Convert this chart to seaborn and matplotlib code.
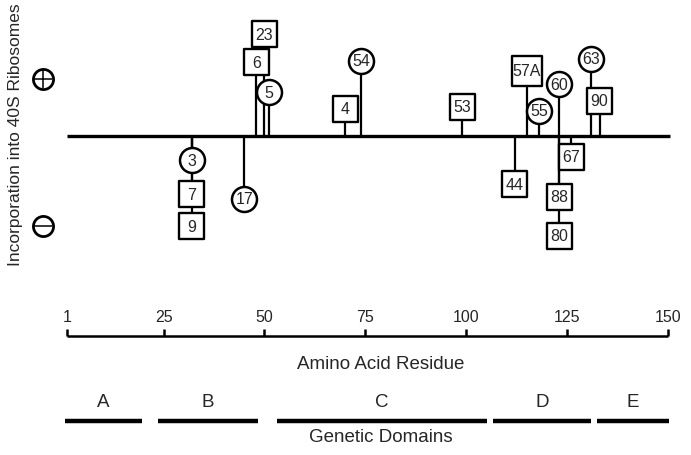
import pandas as pd
import numpy as np
import matplotlib
matplotlib.use("Agg")
import matplotlib.pyplot as plt
import seaborn as sns

# mutation labels, residue position, level above/below the line (+ = incorporated)
labels = ['3', '7', '9', '17', '6', '23', '5', '4', '54', '53',
          '44', '57A', '55', '60', '88', '80', '67', '63', '90']
residues = [32, 32, 32, 45, 48, 50, 51, 70, 74, 99,
            112, 115, 118, 123, 123, 123, 126, 131, 133]
levels = [-24, -58, -90, -63, 74, 102, 44, 27, 75, 29,
          -48, 65, 25, 52, -61, -100, -21, 77, 35]
shapes = ['circle', 'box', 'box', 'circle', 'box', 'box', 'circle', 'box', 'circle', 'box',
          'box', 'box', 'circle', 'circle', 'box', 'box', 'box', 'circle', 'box']

# residue scale and genetic domains
tick_vals = [1, 25, 50, 75, 100, 125, 150]
domain_names = ['A', 'B', 'C', 'D', 'E']
domain_start = [0.5, 23.5, 53, 106.7, 132.4]
domain_end = [19.7, 48.3, 105, 130.8, 150.2]

df = pd.DataFrame({'label': labels, 'residue': residues, 'level': levels, 'shape': shapes})

sns.set_theme(style='white')
plt.rcParams['font.family'] = ['Liberation Sans', 'DejaVu Sans']

fig = plt.figure(figsize=(6.91, 4.56), dpi=100)
ax = fig.add_axes([0, 0, 1, 1])

# stems
ax.vlines(df['residue'], 0, df['level'], color='black', lw=1.6, zorder=1)
# main line
ax.hlines(0, 1.15, 150.4, color='black', lw=2.4, zorder=2)

circ = df[df['shape'] == 'circle']
box = df[df['shape'] == 'box']
sns.scatterplot(data=circ, x='residue', y='level', marker='o', s=324, color='white',
                edgecolor='black', linewidth=1.8, zorder=3, ax=ax, legend=False)
box_sizes = [330 if len(l) < 3 else 470 for l in box['label']]
ax.scatter(box['residue'], box['level'], marker='s', s=box_sizes, c='white',
           edgecolors='black', linewidths=1.7, zorder=3)
for _, row in df.iterrows():
    ax.text(row['residue'], row['level'], row['label'], ha='center', va='center',
            fontsize=11.5, zorder=4)

# plus / minus signs
ax.scatter([-4.9, -4.9], [57, -90], marker='o', s=210, c='white',
           edgecolors='black', linewidths=2.0, zorder=3)
ax.scatter([-4.9], [57], marker='+', s=170, c='black', linewidths=1.1, zorder=4)
ax.scatter([-4.9], [-90], marker='_', s=170, c='black', linewidths=1.1, zorder=4)
ax.text(-11.8, 2, 'Incorporation into 40S Ribosomes', rotation=90,
        ha='center', va='center', fontsize=12.5)

# residue scale
ax.hlines(-199.7, 1, 150, color='black', lw=1.8)
ax.vlines(tick_vals, -199.7, -192.5, color='black', lw=1.8)
for t in tick_vals:
    ax.text(t, -181, str(t), ha='center', va='center', fontsize=11.5)
ax.text(78.7, -228, 'Amino Acid Residue', ha='center', va='center', fontsize=13.5)

# genetic domains
ax.hlines([-284.7] * len(domain_names), domain_start, domain_end, color='black', lw=3.2)
for name, s0, s1 in zip(domain_names, domain_start, domain_end):
    ax.text((s0 + s1) / 2, -266, name, ha='center', va='center', fontsize=13.5)
ax.text(78.7, -301, 'Genetic Domains', ha='center', va='center', fontsize=13.5)

ax.set_xlim(-15.52, 155.65)
ax.set_ylim(-319, 137)
ax.axis('off')

fig.savefig('out.png', dpi=100)
